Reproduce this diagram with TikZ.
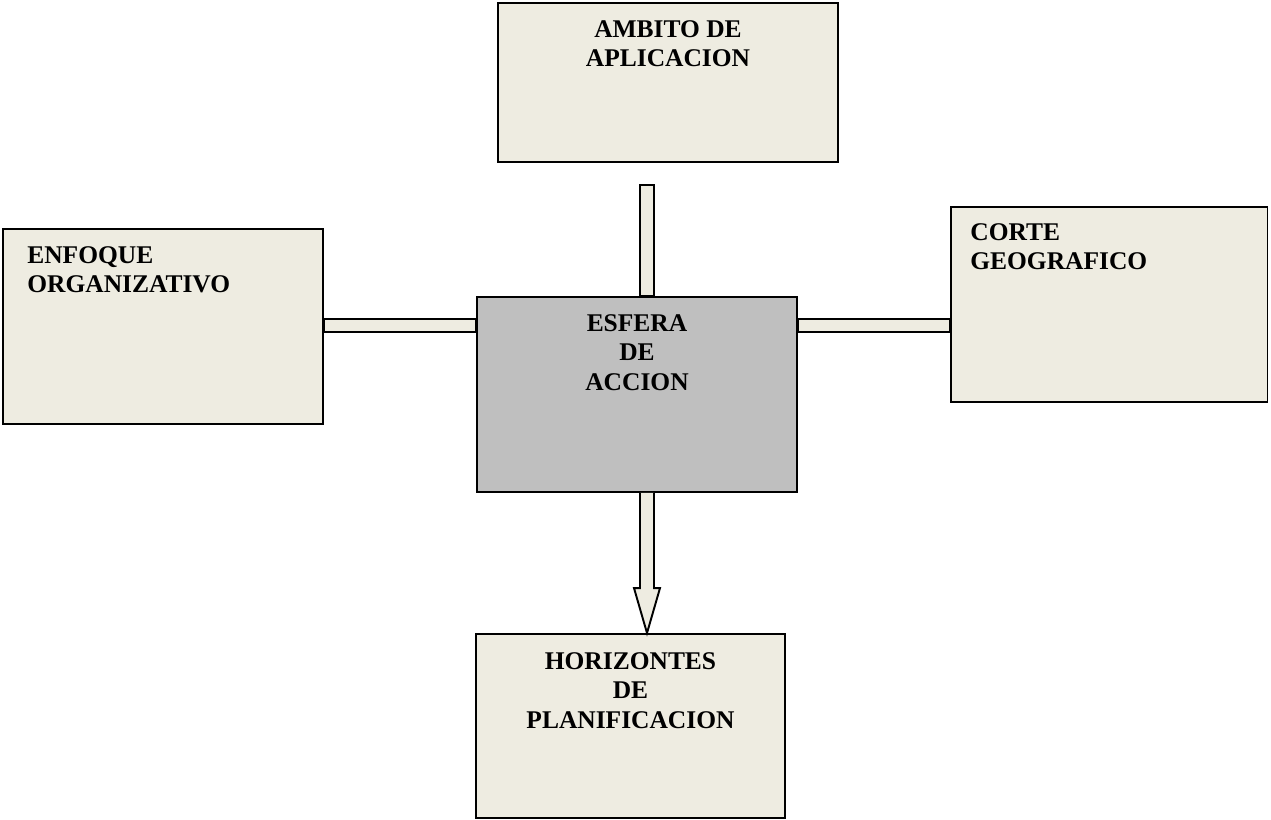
\documentclass[tikz,border=0pt]{standalone}
\usepackage{fontspec}
\setmainfont{Liberation Serif}
\usepackage{tikz}
\usetikzlibrary{calc}
\definecolor{paper}{HTML}{EEECE1}
\definecolor{core}{HTML}{BFBFBF}
\tikzstyle{every node}=[font=\fontsize{14.5pt}{16.8pt}\selectfont\bfseries]
\tikzstyle{box}=[rectangle,
                 draw=black,
                 line width=1.1pt,
                 fill=paper,
                 inner sep=0pt
                 ]
\tikzstyle{lbl}=[inner sep=0pt,
                 align=center
                 ]
\tikzstyle{bar}=[draw=black,
                 line width=1.1pt,
                 fill=paper,
                 line join=miter
                 ]

\begin{document}
\begin{tikzpicture}[x=0.02cm,y=-0.02cm]
\useasboundingbox (0,0) rectangle (1271,819);
\node (ambito)  [box,minimum width=6.8cm,minimum height=3.18cm] at (668,82.5) {};
\node (enfoque) [box,minimum width=6.4cm,minimum height=3.9cm] at (163,326.5) {};
\node (corte)   [box,minimum width=6.34cm,minimum height=3.9cm] at (1109,304.5) {};
\node (esfera)  [box,fill=core,minimum width=6.4cm,minimum height=3.9cm] at (637,394.5) {};
\node (horiz)   [box,minimum width=6.18cm,minimum height=3.68cm] at (630.5,726) {};
% texts
\node (ambito_t)  [lbl,anchor=north] at (668,20) {AMBITO DE\\APLICACION};
\node (enfoque_t) [lbl,align=left,anchor=north west] at (27,246) {ENFOQUE\\ORGANIZATIVO};
\node (corte_t)   [lbl,align=left,anchor=north west] at (970,223) {CORTE\\GEOGRAFICO};
\node (esfera_t)  [lbl,anchor=north] at (637,314) {ESFERA\\DE\\ACCION};
\node (horiz_t)   [lbl,anchor=north] at (630.5,652) {HORIZONTES\\DE\\PLANIFICACION};
% connectors
\coordinate (axis) at (647,0);
\coordinate (topend) at (640,185);
\draw[bar] (topend) rectangle ($(axis |- esfera.north)+(7,0)$);
\draw[bar] (enfoque.east |- 0,319) rectangle (esfera.west |- 0,332);
\draw[bar] (esfera.east |- 0,319) rectangle (corte.west |- 0,332);
\draw[bar] ($(axis |- esfera.south)+(-7,0)$) -- ($(axis |- horiz.north)+(-7,-45)$)
  -- ($(axis |- horiz.north)+(-13,-45)$) -- (axis |- horiz.north)
  -- ($(axis |- horiz.north)+(13,-45)$) -- ($(axis |- horiz.north)+(7,-45)$)
  -- ($(axis |- esfera.south)+(7,0)$);
\end{tikzpicture}
\end{document}
